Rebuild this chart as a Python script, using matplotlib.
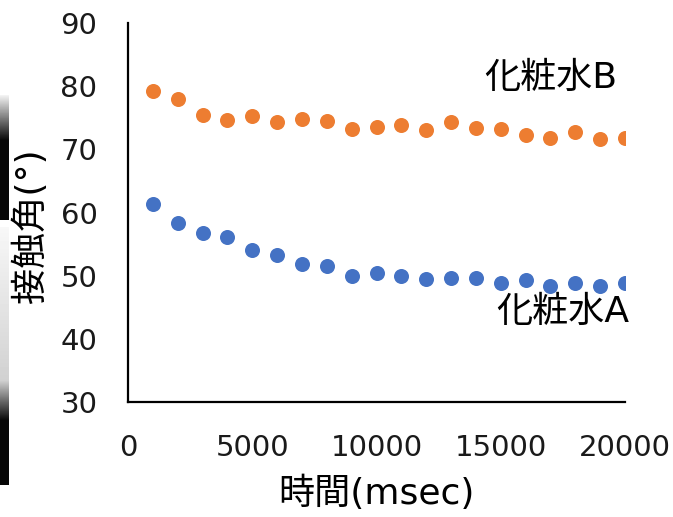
import numpy as np
import matplotlib.pyplot as plt

plt.rcParams['font.family'] = ['DejaVu Sans', 'Noto Sans CJK JP']

# data
time_ms = [1000, 2000, 3000, 4000, 5000, 6000, 7000, 8000, 9000, 10000,
           11000, 12000, 13000, 14000, 15000, 16000, 17000, 18000, 19000, 20000]
lotion_a = [61.3, 58.4, 56.7, 56.1, 54.0, 53.3, 51.8, 51.6, 50.0, 50.5,
            50.0, 49.4, 49.7, 49.6, 48.8, 49.3, 48.4, 48.9, 48.4, 48.9]
lotion_b = [79.3, 78.0, 75.4, 74.6, 75.2, 74.4, 74.8, 74.5, 73.2, 73.6,
            73.8, 73.0, 74.3, 73.4, 73.2, 72.2, 71.8, 72.7, 71.7, 71.8]
x_ticks = [0, 5000, 10000, 15000, 20000]
y_ticks = [30, 40, 50, 60, 70, 80, 90]

fig = plt.figure(figsize=(6.73, 5.17), dpi=100)

# scanned grey strip at the left edge of the reference
strip = np.ones(390)
strip[0:45] = np.linspace(0.95, 0.05, 45)
strip[45:125] = 0.03
strip[125:132] = 1.0
strip[132:285] = np.linspace(0.97, 0.82, 153)
strip[285:325] = np.linspace(0.82, 0.05, 40)
strip[325:] = 0.03
sax = fig.add_axes([0, (517 - 485) / 517, 9 / 673, 390 / 517])
sax.imshow(strip[:, None], cmap='gray', vmin=0, vmax=1, aspect='auto')
sax.axis('off')

ax = fig.add_axes([128 / 673, (517 - 402) / 517, 497 / 673, 379 / 517])
ax.scatter(time_ms, lotion_b, s=117, color='#ED7D31', linewidths=0, zorder=3)
ax.scatter(time_ms, lotion_a, s=117, color='#4472C4', linewidths=0, zorder=3)

ax.set_xlim(0, 20000)
ax.set_ylim(30, 90)
ax.set_xticks(x_ticks)
ax.set_yticks(y_ticks)
ax.tick_params(axis='both', length=0, labelsize=21, colors='#1a1a1a')
ax.tick_params(axis='x', pad=23)
ax.tick_params(axis='y', pad=22)

for s in ['top', 'right']:
    ax.spines[s].set_visible(False)
for s in ['left', 'bottom']:
    ax.spines[s].set_linewidth(1.6)
    ax.spines[s].set_color('black')

ax.set_xlabel('時間(msec)', fontsize=26, labelpad=10)
ax.set_ylabel('接触角(°)', fontsize=26, va='center')
ax.yaxis.set_label_coords(-0.197, 0.464)

ax.text(17000, 81.3, '化粧水B', fontsize=26, ha='center', va='center')
ax.text(17480, 44.2, '化粧水A', fontsize=26, ha='center', va='center')

fig.savefig('out.png', dpi=100)
